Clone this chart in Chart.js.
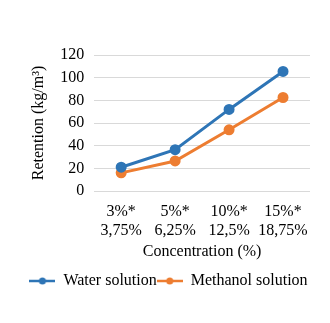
<!DOCTYPE html>
<html>
<head>
    <script src="https://cdn.jsdelivr.net/npm/chart.js"></script>
    <style>
        html, body { margin: 0; padding: 0; background: #fff; }
        #wrap { width: 330px; height: 323px; }
    </style>
</head>
<body>
    <div id="wrap"><canvas id="chart"></canvas></div>
    <script>
        const categories = [['3%*', '3,75%'], ['5%*', '6,25%'], ['10%*', '12,5%'], ['15%*', '18,75%']];
        const waterValues = [21, 36.5, 72, 105.5];
        const methanolValues = [16, 26.5, 54, 82.5];
        const seriesNames = ['Water solution', 'Methanol solution'];
        const seriesColors = ['#2E75B6', '#ED7D31'];

        const fontFamily = '"Liberation Serif", "Times New Roman", serif';

        // small line + dot marker for the legend, like the office style
        function legendIcon(color) {
            const c = document.createElement('canvas');
            c.width = 26;
            c.height = 10;
            const ctx = c.getContext('2d');
            ctx.strokeStyle = color;
            ctx.lineWidth = 2.5;
            ctx.beginPath();
            ctx.moveTo(0, 5);
            ctx.lineTo(26, 5);
            ctx.stroke();
            ctx.fillStyle = color;
            ctx.beginPath();
            ctx.arc(13, 5, 3.5, 0, Math.PI * 2);
            ctx.fill();
            return c;
        }

        new Chart(document.getElementById('chart'), {
            type: 'line',
            data: {
                labels: categories,
                datasets: [{
                    label: seriesNames[0],
                    data: waterValues,
                    borderColor: seriesColors[0],
                    backgroundColor: seriesColors[0],
                    borderWidth: 3,
                    pointRadius: 4,
                    pointHoverRadius: 4
                }, {
                    label: seriesNames[1],
                    data: methanolValues,
                    borderColor: seriesColors[1],
                    backgroundColor: seriesColors[1],
                    borderWidth: 3,
                    pointRadius: 4,
                    pointHoverRadius: 4
                }]
            },
            options: {
                responsive: true,
                maintainAspectRatio: false,
                animation: false,
                layout: {
                    padding: { left: 27, right: 20, top: 55, bottom: 24 }
                },
                plugins: {
                    tooltip: { enabled: false },
                    legend: {
                        position: 'bottom',
                        labels: {
                            usePointStyle: true,
                            pointStyleWidth: 26,
                            padding: 0,
                            color: '#000',
                            font: { family: fontFamily, size: 16 },
                            generateLabels: function (chart) {
                                return chart.data.datasets.map((ds, i) => ({
                                    text: ds.label,
                                    fillStyle: ds.borderColor,
                                    strokeStyle: ds.borderColor,
                                    pointStyle: legendIcon(ds.borderColor),
                                    datasetIndex: i,
                                    hidden: false,
                                    lineWidth: 0,
                                    fontColor: '#000'
                                }));
                            }
                        }
                    }
                },
                scales: {
                    x: {
                        offset: true,
                        grid: { display: false, drawTicks: false },
                        border: { display: false },
                        ticks: {
                            color: '#000',
                            maxRotation: 0,
                            padding: 12,
                            font: { family: fontFamily, size: 16, lineHeight: 1.15 }
                        },
                        title: {
                            display: true,
                            text: 'Concentration (%)',
                            color: '#000',
                            padding: { top: -10, bottom: 12 },
                            font: { family: fontFamily, size: 16 }
                        }
                    },
                    y: {
                        min: 0,
                        max: 120,
                        ticks: {
                            stepSize: 20,
                            autoSkip: false,
                            color: '#000',
                            padding: 10,
                            font: { family: fontFamily, size: 16 }
                        },
                        grid: { color: '#d9d9d9', drawTicks: false },
                        border: { display: false },
                        title: {
                            display: true,
                            text: 'Retention (kg/m³)',
                            color: '#000',
                            padding: 2,
                            font: { family: fontFamily, size: 16 }
                        }
                    }
                }
            }
        });
    </script>
</body>
</html>
